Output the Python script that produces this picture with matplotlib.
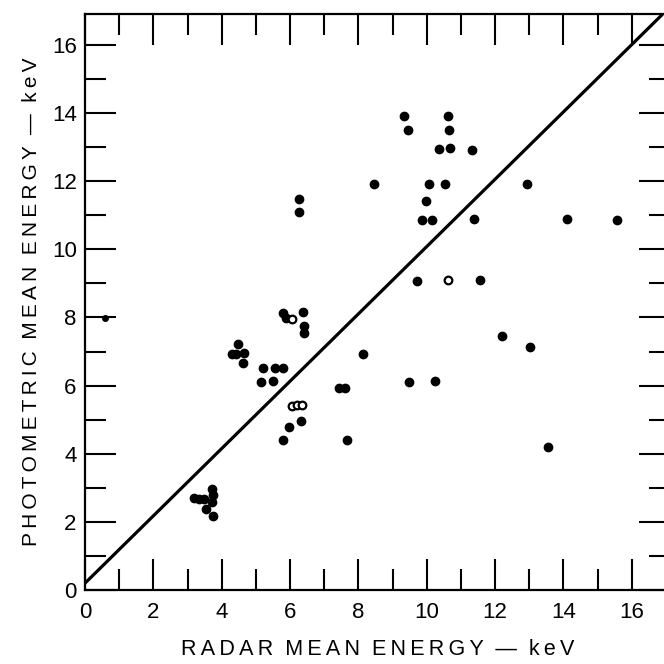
import matplotlib
matplotlib.use('Agg')
import matplotlib.pyplot as plt
from matplotlib.ticker import MultipleLocator

plt.rcParams['font.family'] = ['Liberation Sans', 'DejaVu Sans']

# filled points (radar keV, photometric keV)
radar = [3.19, 3.35, 3.48, 3.71, 3.75, 3.71, 3.54, 3.75,
         4.49, 4.29, 4.42, 4.65, 4.61,
         5.22, 5.56, 5.79, 5.15, 5.49,
         5.80, 5.88, 6.39, 6.42, 6.42,
         6.31, 5.98, 5.79, 6.26, 6.26,
         7.42, 7.62, 7.68, 8.14, 8.45,
         9.33, 10.62, 9.45, 10.66, 10.37, 10.69, 11.34,
         10.07, 10.54, 12.94, 9.97, 9.86, 10.16, 11.38, 14.12, 15.58,
         9.71, 11.55, 12.20, 13.03, 9.48, 10.23, 13.55]
photo = [2.69, 2.66, 2.66, 2.96, 2.79, 2.59, 2.37, 2.18,
         7.22, 6.93, 6.93, 6.97, 6.66,
         6.53, 6.53, 6.53, 6.12, 6.14,
         8.14, 7.98, 8.17, 7.75, 7.54,
         4.96, 4.78, 4.40, 11.49, 11.10,
         5.94, 5.94, 4.41, 6.94, 11.93,
         13.93, 13.93, 13.49, 13.49, 12.94, 12.99, 12.92,
         11.93, 11.93, 11.93, 11.43, 10.87, 10.87, 10.89, 10.89, 10.87,
         9.07, 9.10, 7.46, 7.12, 6.11, 6.14, 4.20]

# open points
radar_open = [6.05, 6.05, 6.19, 6.34, 10.62]
photo_open = [7.96, 5.40, 5.42, 5.43, 9.10]

# small point on the axis
radar_small = [0.58]
photo_small = [7.98]

# reference line y = x
line_x = [0.0, 16.9]
line_y = [0.2, 16.9]

xlabel = 'RADAR MEAN ENERGY — keV'
ylabel = 'PHOTOMETRIC MEAN ENERGY — keV'


def spaced(s):
    # old typewriter-ish letter spacing
    words = s.split(' ')
    return '  '.join('\u2009'.join(w) for w in words)


fig = plt.figure(figsize=(6.64, 6.64), dpi=100)
ax = fig.add_axes([85/664, 74/664, 585/664, 576/664])

ax.plot(line_x, line_y, color='black', lw=2.3, solid_capstyle='butt')
ax.plot(radar, photo, 'o', color='black', ms=6)
ax.plot(radar_open, photo_open, 'o', mfc='white', mec='black', mew=1.6, ms=5.5)
ax.plot(radar_small, photo_small, 'o', color='black', ms=4)

ax.set_xlim(0, 17.12)
ax.set_ylim(0, 16.91)
ax.xaxis.set_minor_locator(MultipleLocator(1))
ax.yaxis.set_minor_locator(MultipleLocator(1))
ax.set_xticks(range(0, 17, 2))
ax.set_yticks(range(0, 17, 2))

ax.tick_params(which='both', direction='in', top=True, right=True, width=1.5, colors='black')
ax.tick_params(which='major', length=22, labelsize=16)
ax.tick_params(axis='x', which='major', pad=9)
ax.tick_params(axis='y', which='major', pad=6)
ax.tick_params(which='minor', length=15)
for s in ax.spines.values():
    s.set_linewidth(1.6)

ax.set_xlabel(spaced(xlabel), fontsize=15.5, labelpad=11)
ax.set_ylabel(spaced(ylabel), fontsize=15, labelpad=8)

fig.savefig('out.png', dpi=100)
